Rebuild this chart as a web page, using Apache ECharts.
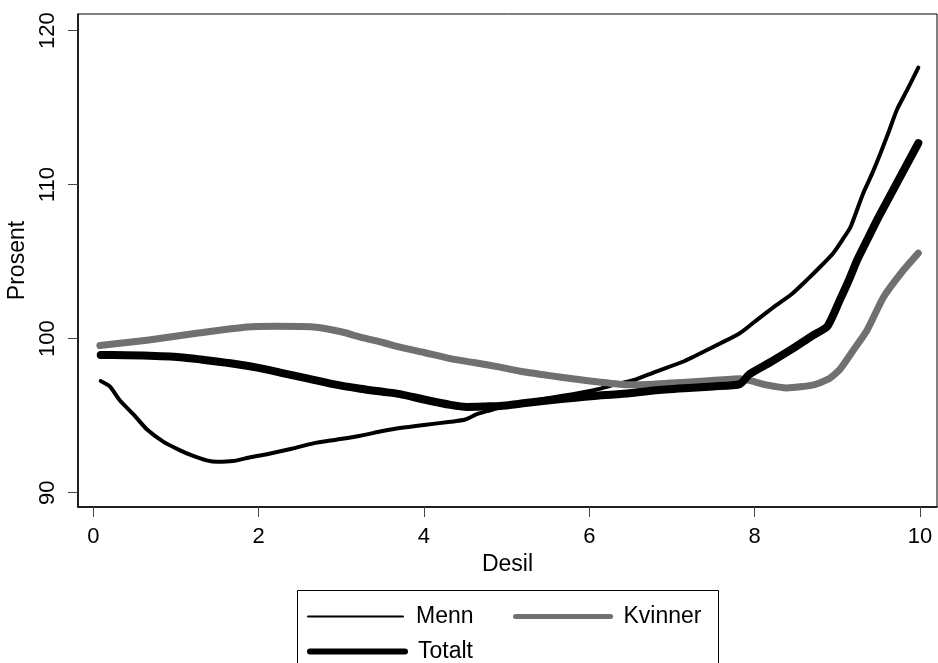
<!DOCTYPE html>
<html>
<head>
<meta charset="utf-8">
<script src="https://cdn.jsdelivr.net/npm/echarts@6/dist/echarts.min.js"></script>
<style>
  html, body { margin: 0; padding: 0; background: #fff; }
  #chart { width: 938px; height: 663px; }
</style>
</head>
<body>
<div id="chart"></div>
<script>
// Desil (x) and Prosent (y) for each group
const mennX = [0.09, 0.2, 0.32, 0.5, 0.65, 0.85, 1.05, 1.2, 1.37, 1.5, 1.69, 1.9, 2.1, 2.4, 2.66, 2.95, 3.23, 3.5, 3.71, 4.0, 4.32, 4.5, 4.64, 4.8, 4.92, 5.2, 5.52, 5.8, 6.09, 6.3, 6.53, 6.8, 7.13, 7.4, 7.82, 8.0, 8.23, 8.45, 8.63, 8.8, 8.95, 9.06, 9.16, 9.31, 9.42, 9.52, 9.62, 9.72, 9.85, 9.98];
const mennY = [97.25, 96.9, 96.0, 95.0, 94.1, 93.3, 92.75, 92.4, 92.1, 92.0, 92.05, 92.3, 92.5, 92.85, 93.2, 93.45, 93.7, 94.0, 94.2, 94.4, 94.6, 94.75, 95.1, 95.35, 95.55, 95.85, 96.15, 96.4, 96.7, 97.0, 97.3, 97.85, 98.5, 99.2, 100.35, 101.1, 102.05, 102.9, 103.8, 104.7, 105.55, 106.4, 107.25, 109.4, 110.7, 112.0, 113.4, 114.85, 116.2, 117.6];

const kvinnerX = [0.08, 0.65, 1.25, 1.86, 2.2, 2.66, 3.0, 3.23, 3.5, 3.71, 4.0, 4.32, 4.6, 4.92, 5.2, 5.52, 5.8, 6.09, 6.49, 6.94, 7.4, 7.82, 8.0, 8.14, 8.39, 8.71, 8.9, 9.03, 9.2, 9.36, 9.56, 9.77, 9.98];
const kvinnerY = [99.55, 99.9, 100.35, 100.76, 100.8, 100.76, 100.45, 100.1, 99.75, 99.45, 99.1, 98.7, 98.45, 98.15, 97.85, 97.6, 97.4, 97.2, 97.0, 97.1, 97.25, 97.4, 97.2, 97.0, 96.8, 97.0, 97.4, 98.0, 99.3, 100.55, 102.7, 104.25, 105.55];

const totaltX = [0.09, 0.24, 0.6, 1.05, 1.3, 1.66, 2.0, 2.26, 2.6, 2.9, 3.23, 3.5, 3.71, 4.0, 4.32, 4.52, 4.75, 4.92, 5.2, 5.52, 5.8, 6.09, 6.49, 6.8, 7.2, 7.5, 7.82, 7.94, 8.2, 8.43, 8.7, 8.88, 9.03, 9.14, 9.24, 9.36, 9.48, 9.6, 9.72, 9.85, 9.98];
const totaltY = [98.94, 98.94, 98.9, 98.8, 98.65, 98.4, 98.1, 97.8, 97.4, 97.05, 96.75, 96.55, 96.4, 96.05, 95.7, 95.57, 95.6, 95.63, 95.8, 96.0, 96.15, 96.3, 96.45, 96.65, 96.8, 96.9, 97.05, 97.7, 98.5, 99.25, 100.2, 100.8, 102.5, 103.8, 105.1, 106.4, 107.7, 108.9, 110.1, 111.4, 112.7];

const xTicks = [0, 2, 4, 6, 8, 10];
const yTicks = [90, 100, 110, 120];

const seriesNames = ['Menn', 'Kvinner', 'Totalt'];

function pairs(xs, ys) {
  return xs.map((x, i) => [x, ys[i]]);
}

const FONT = 'Liberation Sans, Arial, sans-serif';
const GRAY = '#707070';

const chart = echarts.init(document.getElementById('chart'), null, { renderer: 'canvas' });

function legendFor(name, left, top, width) {
  return {
    data: [name],
    left: left,
    top: top,
    orient: 'horizontal',
    itemWidth: 95,
    itemHeight: 14,
    padding: 0,
    selectedMode: false,
    lineStyle: { width: width, cap: 'round' },
    itemStyle: { opacity: 0 },
    textStyle: { fontFamily: FONT, fontSize: 23, color: '#000', padding: [0, 0, 0, 8] }
  };
}

chart.setOption({
  animation: false,
  backgroundColor: '#fff',
  grid: {
    left: 78, right: 1, top: 14, bottom: 156,
    outerBoundsMode: 'none',
    containLabel: false,
    show: true, borderColor: '#000', borderWidth: 1, backgroundColor: 'transparent'
  },
  xAxis: {
    type: 'value',
    min: -0.185, max: 10.206,
    name: 'Desil',
    nameLocation: 'middle',
    nameGap: 37,
    nameTextStyle: { fontFamily: FONT, fontSize: 23, color: '#000' },
    axisLine: { show: true, onZero: false, lineStyle: { color: '#000', width: 1.5 } },
    axisTick: { show: true, length: 10, customValues: xTicks, lineStyle: { color: '#444' } },
    axisLabel: { customValues: xTicks, margin: 19, fontFamily: FONT, fontSize: 22, color: '#000' },
    splitLine: { show: false }
  },
  yAxis: {
    type: 'value',
    min: 89.07, max: 121.08,
    name: 'Prosent',
    nameLocation: 'middle',
    nameRotate: 90,
    nameGap: 46,
    nameTextStyle: { fontFamily: FONT, fontSize: 23, color: '#000' },
    axisLine: { show: true, onZero: false, lineStyle: { color: '#000', width: 1.5 } },
    axisTick: { show: true, length: 10, customValues: yTicks, lineStyle: { color: '#444' } },
    axisLabel: { customValues: yTicks, rotate: 90, margin: 19, fontFamily: FONT, fontSize: 22, color: '#000' },
    splitLine: { show: false }
  },
  legend: [
    legendFor('Menn', 307, 605, 2),
    legendFor('Kvinner', 513, 605, 5),
    legendFor('Totalt', 307, 640, 6)
  ],
  graphic: [{
    type: 'rect',
    shape: { x: 297.5, y: 590.5, width: 421, height: 120 },
    style: { fill: 'none', stroke: '#000', lineWidth: 1 },
    silent: true
  }],
  series: [
    {
      name: seriesNames[0], type: 'line', symbol: 'none', smooth: 0.2,
      data: pairs(mennX, mennY),
      lineStyle: { color: '#000', width: 4, cap: 'round', join: 'round' },
      itemStyle: { color: '#000' }, z: 2
    },
    {
      name: seriesNames[1], type: 'line', symbol: 'none', smooth: 0.2,
      data: pairs(kvinnerX, kvinnerY),
      lineStyle: { color: GRAY, width: 7, cap: 'round', join: 'round' },
      itemStyle: { color: GRAY }, z: 3
    },
    {
      name: seriesNames[2], type: 'line', symbol: 'none', smooth: 0.2,
      data: pairs(totaltX, totaltY),
      lineStyle: { color: '#000', width: 8, cap: 'round', join: 'round' },
      itemStyle: { color: '#000' }, z: 4
    }
  ]
});
</script>
</body>
</html>
